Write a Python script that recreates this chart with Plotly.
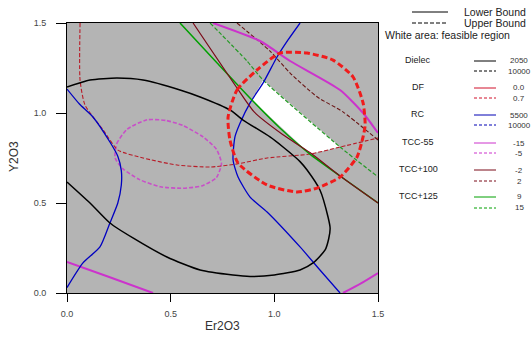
import plotly.graph_objects as go

# ---------------- data ----------------
tick_vals = [0.0, 0.5, 1.0, 1.5]
tick_text = ["0.0", "0.5", "1.0", "1.5"]

# feasible (white) region
feas_x = [0.946, 0.892, 1.172, 1.317, 0.946]
feas_y = [1.183, 1.072, 0.772, 0.811, 1.183]

# Dielec lower bound (2050) - black solid
dielec_lo_x = [0.0, 0.111, 0.241, 0.367, 0.545, 0.642, 0.786, 0.849, 0.979, 1.042, 1.124, 1.158,
               1.22, 1.259, 1.269, 1.262, 1.245, 1.187, 1.124, 1.0, 0.883, 0.8, 0.642, 0.482,
               0.318, 0.207, 0.111, 0.0]
dielec_lo_y = [1.144, 1.183, 1.194, 1.183, 1.128, 1.089, 1.017, 0.961, 0.867, 0.811, 0.73, 0.683,
               0.572, 0.422, 0.36, 0.3, 0.239, 0.167, 0.128, 0.1, 0.092, 0.1, 0.128, 0.2,
               0.306, 0.389, 0.5, 0.617]

# RC lower bound (5500) - blue solid, two branches
rc_left_x = [0.0, 0.06, 0.125, 0.207, 0.245, 0.262, 0.262, 0.245, 0.207, 0.159, 0.077, 0.0]
rc_left_y = [1.133, 1.05, 0.978, 0.839, 0.76, 0.68, 0.6, 0.5, 0.389, 0.256, 0.167, 0.03]
rc_right_x = [1.124, 1.066, 1.013, 0.946, 0.883, 0.835, 0.81, 0.801, 0.825, 0.883, 0.965,
              1.124, 1.22, 1.317]
rc_right_y = [1.5, 1.406, 1.311, 1.167, 1.056, 0.944, 0.867, 0.739, 0.644, 0.533, 0.45,
              0.256, 0.128, 0.0]

# DF upper bound (0.7) - thick red dashed loop
df_hi_x = [0.777, 0.82, 0.917, 1.027, 1.158, 1.283, 1.38, 1.428, 1.438, 1.428, 1.399, 1.317,
           1.206, 1.11, 0.965, 0.825, 0.786, 0.777]
df_hi_y = [0.978, 1.128, 1.239, 1.333, 1.333, 1.294, 1.2, 1.056, 0.933, 0.867, 0.756, 0.644,
           0.583, 0.561, 0.6, 0.722, 0.85, 0.978]

# TCC+100 upper bound (2) - thin dark red dashed curves
tcc100_hi_a_x = [0.063, 0.063, 0.087, 0.174, 0.246, 0.367, 0.531, 0.69, 0.82, 0.965, 1.172,
                 1.317, 1.5]
tcc100_hi_a_y = [1.5, 1.183, 1.044, 0.906, 0.794, 0.75, 0.711, 0.7, 0.717, 0.75, 0.772,
                 0.811, 0.861]
tcc100_hi_b_x = [0.82, 0.979, 1.076, 1.206, 1.331, 1.5]
tcc100_hi_b_y = [1.5, 1.344, 1.222, 1.09, 1.006, 0.85]

# TCC+100 lower bound (-2) - dark red solid
tcc100_lo_x = [0.608, 0.82, 0.905, 1.04, 1.172, 1.317, 1.5]
tcc100_lo_y = [1.5, 1.139, 1.003, 0.88, 0.78, 0.65, 0.5]

# TCC-55 lower bound (-15) - magenta solid (three pieces)
tcc55_lo_a_x = [0.704, 0.931, 1.076, 1.317, 1.428, 1.5]
tcc55_lo_a_y = [1.5, 1.4, 1.289, 1.128, 1.0, 0.889]
tcc55_lo_b_x = [0.0, 0.2, 0.415]
tcc55_lo_b_y = [0.172, 0.09, 0.0]
tcc55_lo_c_x = [1.331, 1.42, 1.5]
tcc55_lo_c_y = [0.0, 0.055, 0.111]

# TCC-55 upper bound (-5) - magenta dashed loop
tcc55_hi_x = [0.232, 0.24, 0.29, 0.386, 0.48, 0.56, 0.656, 0.72, 0.745, 0.72, 0.65, 0.56,
              0.45, 0.35, 0.27, 0.232]
tcc55_hi_y = [0.75, 0.83, 0.91, 0.962, 0.958, 0.93, 0.867, 0.8, 0.72, 0.64, 0.595, 0.582,
              0.59, 0.63, 0.69, 0.75]

# TCC+125 bounds - green
tcc125_lo_x = [0.545, 0.724, 0.892, 1.027, 1.172, 1.317, 1.5]
tcc125_lo_y = [1.5, 1.278, 1.072, 0.917, 0.772, 0.65, 0.5]
tcc125_hi_x = [0.69, 0.868, 0.946, 1.317, 1.5]
tcc125_hi_y = [1.5, 1.289, 1.183, 0.811, 0.645]

# legend content
legend_names = ["Dielec", "DF", "RC", "TCC-55", "TCC+100", "TCC+125"]
legend_lower = ["2050", "0.0", "5500", "-15", "-2", "9"]
legend_upper = ["10000", "0.7", "10000", "-5", "2", "15"]
legend_colors = ["#000000", "#d0102a", "#0000b4", "#cc33cc", "#7a0a18", "#00a000"]

# ---------------- figure ----------------
FONT = "Liberation Sans, Arial, sans-serif"
BG = "#b4b4b4"
DASH_THIN = "4px,2px"

fig = go.Figure()

fig.add_trace(go.Scatter(x=feas_x, y=feas_y, mode="lines", fill="toself",
                         fillcolor="#ffffff", line=dict(color="#ffffff", width=0),
                         hoverinfo="skip"))


def add_line(x, y, color, width, dash="solid", opacity=1.0):
    fig.add_trace(go.Scatter(x=x, y=y, mode="lines", opacity=opacity,
                             line=dict(color=color, width=width, dash=dash, shape="spline",
                                       smoothing=0.6),
                             hoverinfo="skip"))


add_line(tcc55_hi_x, tcc55_hi_y, "#c850c8", 1.6, DASH_THIN)
add_line(tcc100_hi_a_x, tcc100_hi_a_y, "#b81c28", 1.1, DASH_THIN)
add_line(tcc100_hi_b_x, tcc100_hi_b_y, "#6a1414", 1.1, DASH_THIN)
add_line(tcc125_hi_x, tcc125_hi_y, "#259a25", 1.2, DASH_THIN)
add_line(tcc55_lo_a_x, tcc55_lo_a_y, "#cc33cc", 2.0)
add_line(tcc55_lo_b_x, tcc55_lo_b_y, "#cc33cc", 2.0)
add_line(tcc55_lo_c_x, tcc55_lo_c_y, "#cc33cc", 2.0)
add_line(rc_left_x, rc_left_y, "#0000c0", 1.3)
add_line(rc_right_x, rc_right_y, "#0000c8", 1.3)
add_line(tcc125_lo_x, tcc125_lo_y, "#00a000", 1.5)
add_line(tcc100_lo_x, tcc100_lo_y, "#7a0a18", 1.2)
add_line(dielec_lo_x, dielec_lo_y, "#000000", 1.5)
add_line(df_hi_x, df_hi_y, "#f01c1c", 3.0, "6px,3px")

axis_common = dict(range=[0, 1.5], tickvals=tick_vals, ticktext=tick_text,
                   showgrid=False, zeroline=False, showline=True, mirror=True,
                   linecolor="#000000", linewidth=1, ticks="outside",
                   tickcolor="#000000", tickwidth=1,
                   tickfont=dict(family=FONT, size=9, color="#444444"))

fig.update_xaxes(**axis_common, ticklen=8, ticklabelstandoff=4)
fig.update_yaxes(**axis_common, ticklen=10, ticklabelstandoff=8)

L, R, T, B = 67, 378, 23, 293
W, H = 531, 337


def px(x):
    return (x - L) / (R - L)


def py(y):
    return (B - y) / (B - T)


shapes = []
annotations = []

# header
for yy, dash, label in [(12, "solid", "Lower Bound"), (23, DASH_THIN, "Upper Bound")]:
    shapes.append(dict(type="line", xref="paper", yref="paper", x0=px(412), x1=px(448),
                       y0=py(yy), y1=py(yy), line=dict(color="#000000", width=1, dash=dash)))
    annotations.append(dict(xref="paper", yref="paper", x=px(462), y=py(yy), text=label,
                            showarrow=False, xanchor="left", yanchor="middle",
                            font=dict(family=FONT, size=10.5, color="#222222")))
annotations.append(dict(xref="paper", yref="paper", x=px(383), y=py(35),
                        text="White area: feasible region", showarrow=False,
                        xanchor="left", yanchor="middle",
                        font=dict(family=FONT, size=10.5, color="#222222")))

row_solid = [61, 88, 115, 143, 170, 197]
row_dash = [71, 98, 125, 153, 181, 208]
for i, name in enumerate(legend_names):
    c = legend_colors[i]
    annotations.append(dict(xref="paper", yref="paper", x=px(418), y=py(row_solid[i] - 1),
                            text=name, showarrow=False, xanchor="center", yanchor="middle",
                            font=dict(family=FONT, size=9, color="#222222")))
    shapes.append(dict(type="line", xref="paper", yref="paper", x0=px(474), x1=px(496),
                       y0=py(row_solid[i]), y1=py(row_solid[i]),
                       line=dict(color=c, width=1)))
    shapes.append(dict(type="line", xref="paper", yref="paper", x0=px(474), x1=px(496),
                       y0=py(row_dash[i]), y1=py(row_dash[i]),
                       line=dict(color=c, width=1, dash="3px,2px")))
    annotations.append(dict(xref="paper", yref="paper", x=px(519), y=py(row_solid[i]),
                            text=legend_lower[i], showarrow=False, xanchor="center",
                            yanchor="middle", font=dict(family=FONT, size=8, color="#333333")))
    annotations.append(dict(xref="paper", yref="paper", x=px(519), y=py(row_dash[i]),
                            text=legend_upper[i], showarrow=False, xanchor="center",
                            yanchor="middle", font=dict(family=FONT, size=8, color="#333333")))

# axis titles
annotations.append(dict(xref="paper", yref="paper", x=px(14), y=py(157), text="Y2O3",
                        textangle=-90, showarrow=False, xanchor="center", yanchor="middle",
                        font=dict(family=FONT, size=12, color="#333333")))
annotations.append(dict(xref="paper", yref="paper", x=px(222), y=py(326), text="Er2O3",
                        showarrow=False, xanchor="center", yanchor="middle",
                        font=dict(family=FONT, size=12, color="#333333")))

fig.update_layout(width=W, height=H, autosize=False,
                  margin=dict(l=L, r=W - R, t=T, b=H - B, pad=0),
                  paper_bgcolor="#ffffff", plot_bgcolor=BG, showlegend=False,
                  shapes=shapes, annotations=annotations)

fig.write_html("out.html", config={"displayModeBar": False},
               post_script="document.body.style.margin='0';document.body.style.overflow='hidden';")
